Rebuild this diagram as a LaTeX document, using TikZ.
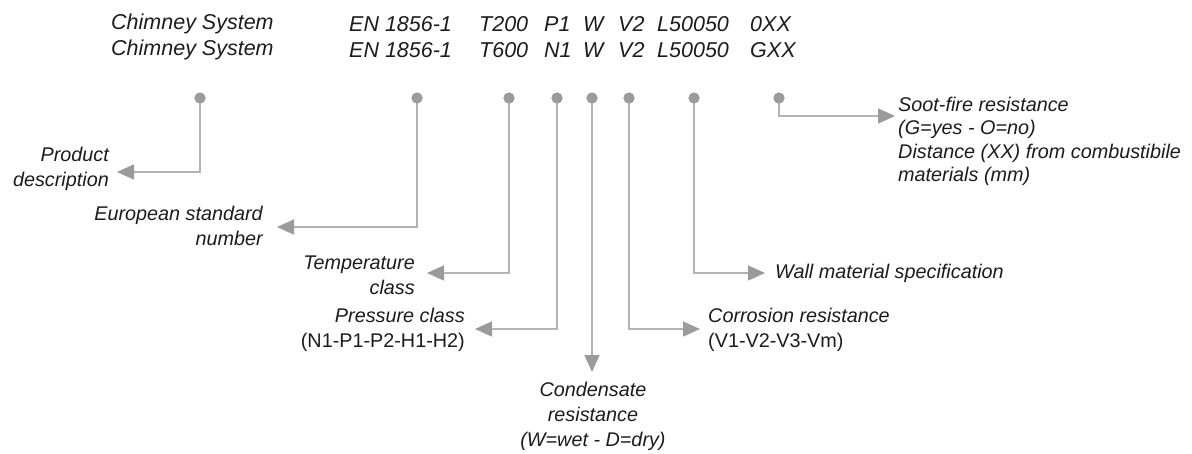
\documentclass[tikz,border=0pt]{standalone}
\usepackage{fontspec}
\setmainfont{Liberation Sans}
\usetikzlibrary{arrows.meta}
\definecolor{dotgray}{HTML}{9B9B9C}
\definecolor{linegray}{HTML}{B3B3B3}
\definecolor{txt}{HTML}{1C1C1C}
\tikzset{
  hdr/.style={anchor=west,inner sep=0pt,text=txt,font=\fontsize{21.5}{25}\selectfont\itshape},
  lbl/.style={inner sep=0pt,text=txt,font=\fontsize{19.8}{25}\selectfont\itshape},
  pin/.style={circle,fill=dotgray,draw=none,minimum size=11pt,inner sep=0pt},
  conn/.style={draw=linegray,line width=1.5pt,-{Triangle[length=17pt,width=15pt,color=dotgray]}}
}
\begin{document}
\begin{tikzpicture}[x=1pt,y=-1pt]
\path[use as bounding box,fill=white] (0,0) rectangle (1192,453);
% header rows
\foreach \r/\yy/\tt/\pp/\gg in {1/24/T200/P1/0XX, 2/50/T600/N1/GXX}{
  \node[hdr] (cs\r) at (111,\yy) {Chimney System};
  \node[hdr] (en\r) at (349,\yy) {EN 1856-1};
  \node[hdr] (t\r) at (479,\yy) {\tt};
  \node[hdr] (p\r) at (544,\yy) {\pp};
  \node[hdr] (w\r) at (583,\yy) {W};
  \node[hdr] (v\r) at (618,\yy) {V2};
  \node[hdr] (l\r) at (657,\yy) {L50050};
  \node[hdr] (g\r) at (750,\yy) {\gg};
}
% pins
\node[pin] (d1) at (200,98) {};
\node[pin] (d2) at (417,98) {};
\node[pin] (d3) at (509,98) {};
\node[pin] (d4) at (557,98) {};
\node[pin] (d5) at (592,98) {};
\node[pin] (d6) at (629,98) {};
\node[pin] (d7) at (694,98) {};
\node[pin] (d8) at (779,98) {};
% labels
\node[lbl,anchor=east,align=right] (l1) at (109,169) {Product\\description};
\node[lbl,anchor=east,align=right] (l2) at (263,226) {European standard\\number};
\node[lbl,anchor=east,align=right] (l3) at (415,275) {Temperature\\class};
\node[lbl,anchor=east,align=right] (l4) at (465,330) {Pressure class\\{\upshape (N1-P1-P2-H1-H2)}};
\node[lbl,anchor=north,align=center] (l5) at (593,382) {Condensate\\resistance\\(W=wet - D=dry)};
\node[lbl,anchor=west,align=left] (l6) at (708,330) {Corrosion resistance\\{\upshape (V1-V2-V3-Vm)}};
\node[lbl,anchor=west] (l7) at (775,273) {Wall material specification};
\node[lbl,anchor=north west,align=left,font=\fontsize{19.8}{23.4}\selectfont\itshape] (l8) at (898,97) {Soot-fire resistance\\(G=yes - O=no)\\Distance (XX) from combustibile\\materials (mm)};
% arrow tips
\coordinate (a1) at (117,172);
\coordinate (a2) at (277,227);
\coordinate (a3) at (427,273);
\coordinate (a4) at (475,329);
\coordinate (a5) at (592,372);
\coordinate (a6) at (700,329);
\coordinate (a7) at (765,273);
\coordinate (a8) at (895,116);
% connectors
\draw[conn] (d1.center) |- (a1);
\draw[conn] (d2.center) |- (a2);
\draw[conn] (d3.center) |- (a3);
\draw[conn] (d4.center) |- (a4);
\draw[conn] (d5.center) -- (a5);
\draw[conn] (d6.center) |- (a6);
\draw[conn] (d7.center) |- (a7);
\draw[conn] (d8.center) |- (a8);
% redraw pins on top
\foreach \d in {d1,d2,d3,d4,d5,d6,d7,d8}{\fill[dotgray] (\d) circle (5.5pt);}
\end{tikzpicture}
\end{document}
